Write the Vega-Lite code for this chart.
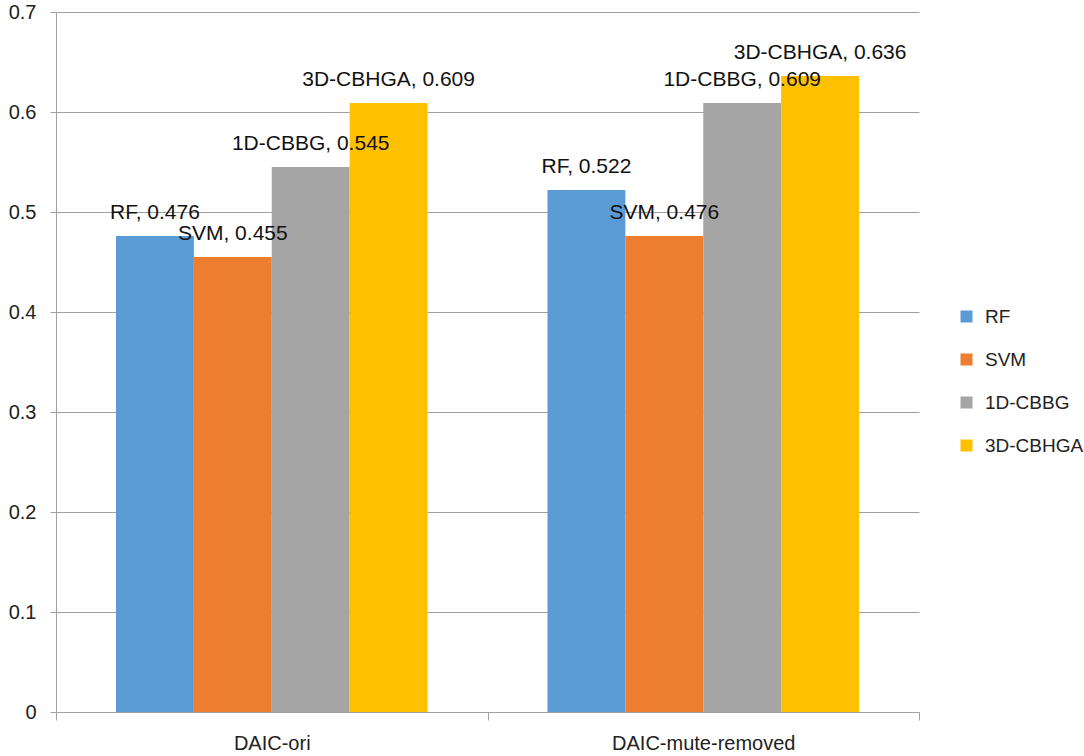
{
  "$schema": "https://vega.github.io/schema/vega-lite/v6.json",
  "width": 863,
  "height": 700,
  "autosize": "none",
  "padding": {"left": 56, "top": 12, "right": 165, "bottom": 44},
  "background": "white",
  "data": {
    "values": [
      {"group": "DAIC-ori", "model": "RF", "value": 0.476},
      {"group": "DAIC-ori", "model": "SVM", "value": 0.455},
      {"group": "DAIC-ori", "model": "1D-CBBG", "value": 0.545},
      {"group": "DAIC-ori", "model": "3D-CBHGA", "value": 0.609},
      {"group": "DAIC-mute-removed", "model": "RF", "value": 0.522},
      {"group": "DAIC-mute-removed", "model": "SVM", "value": 0.476},
      {"group": "DAIC-mute-removed", "model": "1D-CBBG", "value": 0.609},
      {"group": "DAIC-mute-removed", "model": "3D-CBHGA", "value": 0.636}
    ]
  },
  "transform": [
    {"calculate": "datum.model + ', ' + format(datum.value, '.3f')", "as": "label"}
  ],
  "encoding": {
    "x": {
      "field": "group",
      "type": "nominal",
      "sort": ["DAIC-ori", "DAIC-mute-removed"],
      "scale": {"paddingInner": 0, "paddingOuter": 0},
      "axis": {
        "title": null,
        "labelAngle": 0,
        "labelLimit": 400,
        "tickBand": "extent",
        "tickSize": 8,
        "labelPadding": 13,
        "domainColor": "#a0a0a0",
        "tickColor": "#a0a0a0",
        "grid": false
      }
    },
    "xOffset": {
      "field": "model",
      "type": "nominal",
      "sort": ["RF", "SVM", "1D-CBBG", "3D-CBHGA"],
      "scale": {"paddingInner": 0, "paddingOuter": 0.77}
    },
    "y": {
      "field": "value",
      "type": "quantitative",
      "scale": {"domain": [0, 0.7], "nice": false},
      "axis": {
        "title": null,
        "values": [0, 0.1, 0.2, 0.3, 0.4, 0.5, 0.6, 0.7],
        "format": ".1~f",
        "tickSize": 6,
        "labelPadding": 14,
        "domainColor": "#a0a0a0",
        "tickColor": "#a0a0a0",
        "gridColor": "#a0a0a0"
      }
    }
  },
  "layer": [
    {
      "mark": {"type": "bar"},
      "encoding": {
        "color": {
          "field": "model",
          "type": "nominal",
          "sort": ["RF", "SVM", "1D-CBBG", "3D-CBHGA"],
          "scale": {
            "domain": ["RF", "SVM", "1D-CBBG", "3D-CBHGA"],
            "range": ["#5b9bd5", "#ed7d31", "#a5a5a5", "#ffc000"]
          },
          "legend": {
            "title": null,
            "orient": "none",
            "legendX": 901,
            "legendY": 295,
            "symbolType": "square",
            "symbolSize": 144,
            "symbolStrokeWidth": 0,
            "labelFontSize": 19,
            "labelLimit": 300,
            "labelOffset": 9,
            "rowPadding": 23
          }
        }
      }
    },
    {
      "mark": {"type": "text", "baseline": "middle", "dy": -23, "fontSize": 21, "color": "#111"},
      "encoding": {"text": {"field": "label"}}
    }
  ],
  "config": {
    "font": "Liberation Sans",
    "view": {"stroke": null},
    "axis": {"labelFontSize": 20, "labelColor": "#222"},
    "legend": {"labelColor": "#222"}
  }
}
